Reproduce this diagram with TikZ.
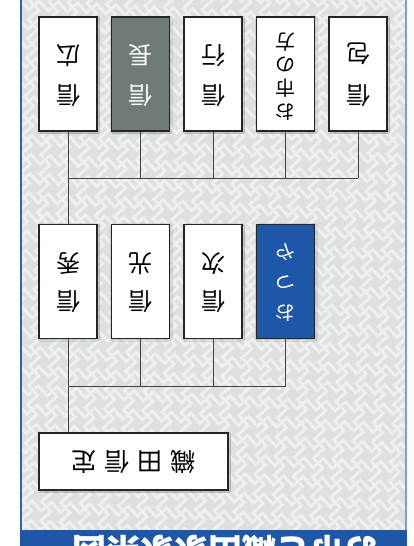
\documentclass[tikz,border=0pt]{standalone}
\usepackage{fontspec}
\usepackage{graphicx}
\newfontfamily\cjk{Noto Sans CJK JP}
\usetikzlibrary{shadows.blur}
\definecolor{bgGray}{RGB}{220,224,223}
\definecolor{patWhite}{RGB}{239,241,241}
\definecolor{frameBlue}{RGB}{45,100,185}
\definecolor{frameLight}{RGB}{120,160,215}
\definecolor{bannerBlue}{RGB}{30,86,168}
\definecolor{nagaGray}{RGB}{110,123,120}
\definecolor{boxEdge}{RGB}{40,36,34}
\definecolor{lineCol}{RGB}{70,66,64}
\newcommand{\vtxt}[3]{\rotatebox{180}{\fontsize{#1}{#2}\selectfont\begin{tabular}{@{}c@{}}#3\end{tabular}}}
\begin{document}
\begin{tikzpicture}[x=1pt,y=-1pt,
  person/.style={draw=boxEdge, line width=1.1pt, fill=white, text=black,
    minimum width=58pt, minimum height=114pt, inner sep=0pt, font=\cjk,
    blur shadow={shadow xshift=1pt, shadow yshift=-1pt, shadow blur steps=3, shadow opacity=25}},
  highlight/.style={person, fill=nagaGray, text=white},
  bluebox/.style={person, fill=bannerBlue, text=white},
  rootbox/.style={person, minimum width=189pt, minimum height=57pt},
  link/.style={draw=lineCol, line width=0.9pt}]
\useasboundingbox (0,0) rectangle (413,546);
\fill[white] (0,0) rectangle (413,546);
% background with sayagata-like pattern
\begin{scope}
\clip (21,0) rectangle (406,530);
\fill[bgGray] (21,0) rectangle (406,530);
\begin{scope}[shift={(213,265)}, rotate=42, scale=3.4, line width=2.7pt, patWhite, line cap=rect]
\foreach \b in {-26,...,26}{
  \pgfmathtruncatemacro\off{mod(abs(\b),2)}
  \foreach \a in {-13,...,13}{
    \pgfmathtruncatemacro\cx{8*\a+4*\off}
    \pgfmathtruncatemacro\cy{4*\b}
    \draw (\cx-2,\cy-4) -- ++(0,4) -- ++(4,0) -- ++(0,4);
    \draw (\cx+4,\cy-2) -- ++(-4,0) -- ++(0,4) -- ++(-4,0);
  }
}
\end{scope}
\end{scope}
% frame
\draw[frameBlue, line width=1.5pt] (21,0) -- (21,530);
\draw[frameLight, line width=2pt] (406,0) -- (406,530);
% banner
\fill[bannerBlue] (20.25,530) rectangle (407,546);
\begin{scope}
\clip (20,530) rectangle (407,546);
\node[text=white, font=\cjk\bfseries\fontsize{34}{40}\selectfont, rotate=180, inner sep=0pt] (title) at (225,551) {お市と織田家家系図};
\end{scope}
% generation 3 (top row in picture)
\node[person]    (hiro) at (68,74)    {\vtxt{24}{40}{信\\広}};
\node[highlight] (naga) at (140.5,74) {\vtxt{24}{40}{信\\長}};
\node[person]    (yuki) at (213,74)   {\vtxt{24}{40}{信\\行}};
\node[person]    (ichi) at (285.5,74) {\vtxt{20}{23}{お\\市\\の\\方}};
\node[person]    (kane) at (358,74)   {\vtxt{24}{42}{信\\包}};
% generation 2
\node[person]    (hide) at (68,281.5)    {\vtxt{24}{38}{信\\秀}};
\node[person]    (mitsu) at (140.5,281.5){\vtxt{24}{38}{信\\光}};
\node[person]    (tsugu) at (213,281.5)  {\vtxt{24}{38}{信\\次}};
\node[bluebox]   (otsuya) at (285.5,281.5){\vtxt{20}{30.5}{お\\つ\\や}};
% generation 1
\node[rootbox]   (sada) at (133.5,461.5) {\rotatebox{180}{\fontsize{25}{30}\selectfont 織\hspace{8pt}田\hspace{8pt}信\hspace{8pt}定}};
% connectors
\coordinate (bar1) at (68,178);
\coordinate (bar2) at (68,386);
\foreach \n in {hiro,naga,yuki,ichi,kane}
  \draw[link] (\n.south) -- (\n.south |- bar1);
\draw[link] (hiro.south |- bar1) -- (kane.south |- bar1);
\draw[link] (hiro.south |- bar1) -- (hide.north);
\foreach \n in {hide,mitsu,tsugu,otsuya}
  \draw[link] (\n.south) -- (\n.south |- bar2);
\draw[link] (hide.south |- bar2) -- (otsuya.south |- bar2);
\draw[link] (hide.south |- bar2) -- (sada.north -| hide.south);
\end{tikzpicture}
\end{document}
